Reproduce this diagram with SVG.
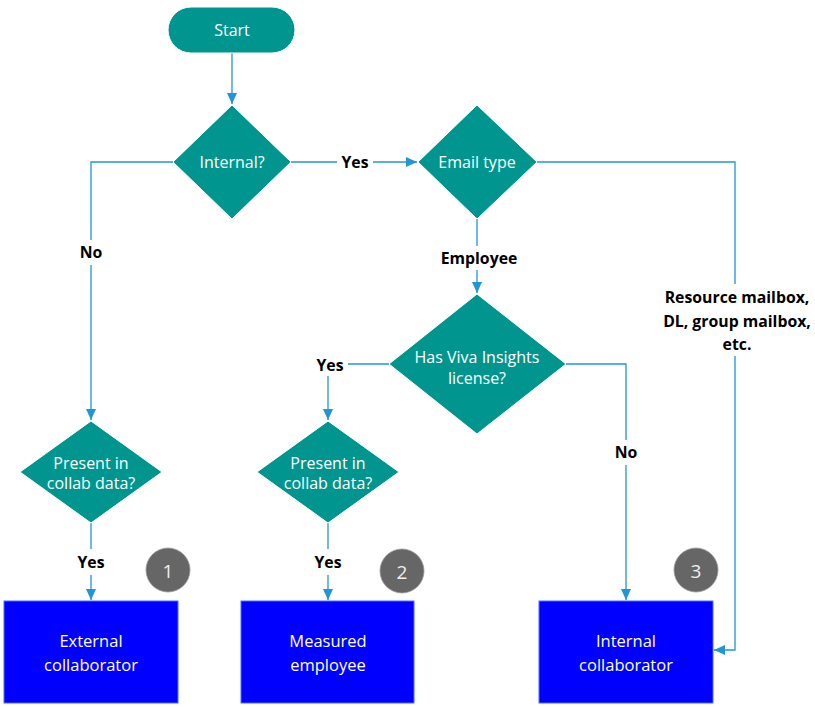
<svg xmlns="http://www.w3.org/2000/svg" width="815" height="707" viewBox="0 0 815 707">
<style>
.dec{fill:#00968F;stroke:#fff;stroke-width:1}
.box{fill:#0000FF;stroke:#4a6cff;stroke-width:1}
.nt{font-family:"Open Sans",sans-serif;font-size:16px;fill:#fff;text-anchor:middle;dominant-baseline:central}
.bt{font-family:"Open Sans",sans-serif;font-size:16.5px;fill:#fff;text-anchor:middle;dominant-baseline:central}
.lbl{font-family:"Open Sans",sans-serif;font-size:15.8px;font-weight:bold;fill:#000;text-anchor:middle;dominant-baseline:central}
.ln{fill:none;stroke:#2196D6;stroke-width:1.3}
.num{fill:#666;stroke:#999;stroke-width:0.8}
.nt2{font-family:"Open Sans",sans-serif;font-size:19px;fill:#f0f0f0;text-anchor:middle;dominant-baseline:central}
</style>
<defs>
<marker id="ah" markerUnits="userSpaceOnUse" markerWidth="12" markerHeight="10" refX="11" refY="5" orient="auto">
<path d="M0,0 L11,5 L0,10 Z" fill="#2196D6"/>
</marker>
</defs>
<g id="connectors">
<path class="ln" d="M232,53 V104" marker-end="url(#ah)"/>
<path class="ln" d="M291,162 H337"/>
<path class="ln" d="M373,162 H417" marker-end="url(#ah)"/>
<path class="ln" d="M173,162 H91 V240"/>
<path class="ln" d="M91,265 V420" marker-end="url(#ah)"/>
<path class="ln" d="M537,162 H735 V284"/>
<path class="ln" d="M735,356 V650 H714" marker-end="url(#ah)"/>
<path class="ln" d="M477,218 V246"/>
<path class="ln" d="M477,270 V293" marker-end="url(#ah)"/>
<path class="ln" d="M389,364 H348"/>
<path class="ln" d="M328,376 V420" marker-end="url(#ah)"/>
<path class="ln" d="M566,364 H626 V440"/>
<path class="ln" d="M626,465 V600" marker-end="url(#ah)"/>
<path class="ln" d="M91,523 V549"/>
<path class="ln" d="M91,575 V600" marker-end="url(#ah)"/>
<path class="ln" d="M328,523 V549"/>
<path class="ln" d="M328,575 V600" marker-end="url(#ah)"/>
<text class="lbl" x="355" y="162">Yes</text>
<text class="lbl" x="91" y="252">No</text>
<text class="lbl" x="479" y="258">Employee</text>
<text class="lbl" x="737" y="297">Resource mailbox,</text>
<text class="lbl" x="737" y="321">DL, group mailbox,</text>
<text class="lbl" x="737" y="344">etc.</text>
<text class="lbl" x="330" y="365">Yes</text>
<text class="lbl" x="626" y="452">No</text>
<text class="lbl" x="91" y="562">Yes</text>
<text class="lbl" x="328" y="562">Yes</text>
</g>
<g id="start">
<rect x="168" y="7" width="127" height="46" rx="23" fill="#00968F" stroke="#fff"/>
<text class="nt" x="232" y="30">Start</text>
</g>
<g id="internal">
<polygon class="dec" points="232,105 291,162 232,219 173,162"/>
<text class="nt" x="232" y="162">Internal?</text>
</g>
<g id="emailtype">
<polygon class="dec" points="477,105 537,162 477,219 418,162"/>
<text class="nt" x="477" y="162">Email type</text>
</g>
<g id="viva">
<polygon class="dec" points="477,294 566,364 477,434 389,364"/>
<text class="nt" x="477" y="357">Has Viva Insights</text>
<text class="nt" x="477" y="378">license?</text>
</g>
<g id="present1">
<polygon class="dec" points="91,421 162,472 91,523 20,472"/>
<text class="nt" x="91" y="463">Present in</text>
<text class="nt" x="91" y="483">collab data?</text>
</g>
<g id="present2">
<polygon class="dec" points="328,421 399,472 328,523 257,472"/>
<text class="nt" x="328" y="463">Present in</text>
<text class="nt" x="328" y="483">collab data?</text>
</g>
<g id="external">
<rect class="box" x="4" y="601" width="174" height="102"/>
<text class="bt" x="91" y="640">External</text>
<text class="bt" x="91" y="664">collaborator</text>
</g>
<g id="measured">
<rect class="box" x="241" y="601" width="173" height="102"/>
<text class="bt" x="328" y="640">Measured</text>
<text class="bt" x="328" y="664">employee</text>
</g>
<g id="internalcollab">
<rect class="box" x="539" y="601" width="174" height="102"/>
<text class="bt" x="626" y="640">Internal</text>
<text class="bt" x="626" y="664">collaborator</text>
</g>
<g id="badge1">
<circle class="num" cx="168" cy="570" r="22"/>
<text class="nt2" x="168" y="571">1</text>
</g>
<g id="badge2">
<circle class="num" cx="402" cy="571" r="22"/>
<text class="nt2" x="402" y="572">2</text>
</g>
<g id="badge3">
<circle class="num" cx="696" cy="570" r="22"/>
<text class="nt2" x="696" y="571">3</text>
</g>
</svg>
